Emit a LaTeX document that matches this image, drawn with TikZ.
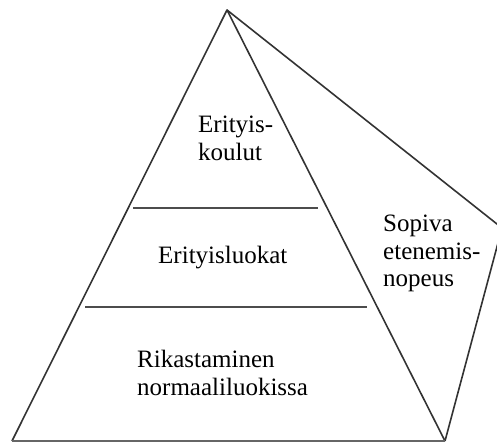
\documentclass[tikz,border=0pt]{standalone}
\usepackage{fontspec}
\setmainfont{Liberation Serif}
\begin{document}
\begin{tikzpicture}[x=1pt,y=1pt,
  edge/.style={draw=black!80,line width=1.6pt,line join=round},
  baseline/.style={draw=black!60,line width=1.2pt},
  layer/.style={draw=black!70,line width=2pt},
  label/.style={font=\fontsize{25}{27.5}\selectfont,inner sep=0pt,align=left}]
  \useasboundingbox (0,0) rectangle (497,445);
  \clip (0,0) rectangle (497,445);
  \coordinate (apex) at (227,435);
  \coordinate (left) at (12,4);
  \coordinate (right) at (445,4);
  \coordinate (corner) at (502,217);
  \coordinate (top1) at (133,237);
  \coordinate (top2) at (318,237);
  \coordinate (mid1) at (85,138);
  \coordinate (mid2) at (367,138);
  % pyramid and side face
  \draw[edge] (left) -- (apex) -- (right);
  \draw[edge] (apex) -- (corner) -- (right);
  \draw[baseline] (left) -- (right);
  \draw[layer] (top1) -- (top2);
  \draw[layer] (mid1) -- (mid2);
  % labels
  \node[label,anchor=north west] (koulut) at (198,329) {Erityis-\\koulut};
  \node[label,anchor=base west] (luokat) at (158,182) {Erityisluokat};
  \node[label,anchor=north west] (rikas) at (137,95) {Rikastaminen\\normaaliluokissa};
  \node[label,anchor=north west] (nopeus) at (383,230) {Sopiva\\etenemis-\\nopeus};
\end{tikzpicture}
\end{document}
